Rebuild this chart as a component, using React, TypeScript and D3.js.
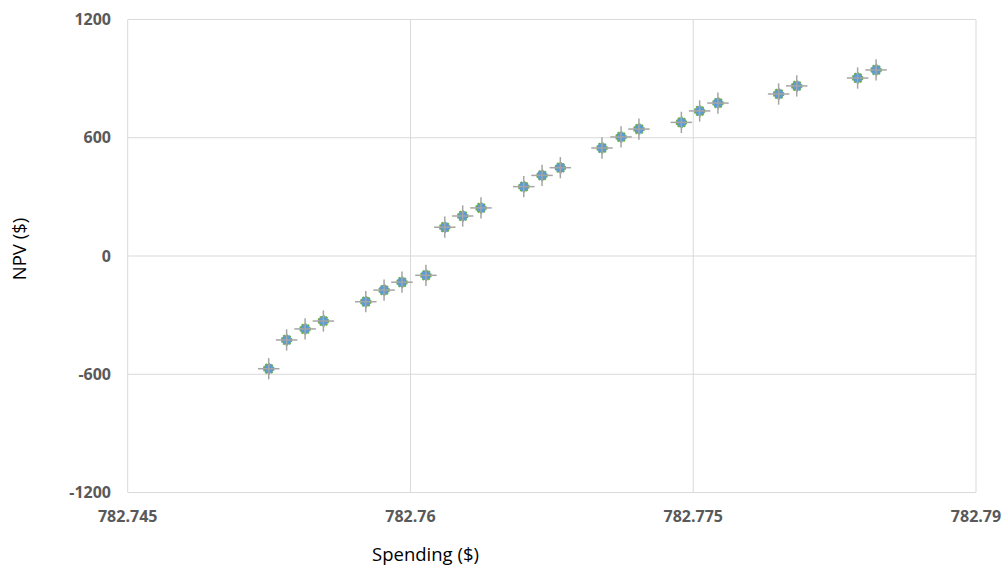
import React from "react";
import * as d3 from "d3";

// Spending ($) vs NPV ($) observations
const spending = [
  782.75248, 782.75343, 782.75441, 782.75538, 782.75763, 782.7586, 782.75955, 782.76082,
  782.76182, 782.76277, 782.76374, 782.76601, 782.76698, 782.76795, 782.77016, 782.77117,
  782.77212, 782.77437, 782.77534, 782.77631, 782.77953, 782.78049, 782.78372, 782.7847,
];
const npv = [
  -572, -426, -370, -330, -232, -173, -133, -98,
  146, 203, 244, 352, 409, 448, 548, 604,
  644, 678, 736, 776, 822, 863, 903, 944,
];
// fixed error-bar half widths
const errSpending = 0.00057;
const errNpv = 54;

const xTicks = [782.745, 782.76, 782.775, 782.79];
const yTicks = [-1200, -600, 0, 600, 1200];

const W = 1004;
const H = 576;
const plot = { left: 127.7, right: 976, top: 19.5, bottom: 492.5 };

export default function App() {
  const x = d3.scaleLinear().domain([782.745, 782.79]).range([plot.left, plot.right]);
  const y = d3.scaleLinear().domain([-1200, 1200]).range([plot.bottom, plot.top]);
  const grid = "#d9d9d9";
  const tickColor = "#595959";
  const tickFont = "'Open Sans', sans-serif";

  return (
    <svg
      width={W}
      height={H}
      style={{ position: "absolute", left: 0, top: 0, background: "#fff" }}
    >
      {/* gridlines */}
      {xTicks.map((t) => (
        <line key={"gx" + t} x1={x(t)} x2={x(t)} y1={plot.top} y2={plot.bottom} stroke={grid} strokeWidth={1} />
      ))}
      {yTicks.map((t) => (
        <line key={"gy" + t} x1={plot.left} x2={plot.right} y1={y(t)} y2={y(t)} stroke={grid} strokeWidth={1} />
      ))}

      {/* tick labels */}
      {yTicks.map((t) => (
        <text
          key={"ly" + t}
          x={111}
          y={y(t)}
          dy="0.35em"
          textAnchor="end"
          fontFamily={tickFont}
          fontWeight={700}
          fontSize={16}
          fill={tickColor}
        >
          {t}
        </text>
      ))}
      {xTicks.map((t) => (
        <text
          key={"lx" + t}
          x={x(t)}
          y={516}
          dy="0.35em"
          textAnchor="middle"
          fontFamily={tickFont}
          fontWeight={700}
          fontSize={16}
          fill={tickColor}
        >
          {d3.format("")(t)}
        </text>
      ))}

      {/* axis titles */}
      <text x={425.5} y={555} dy="0.35em" textAnchor="middle" fontFamily={tickFont} fontSize={18.5} fill="#000">
        Spending ($)
      </text>
      <text
        transform={`translate(20,249) rotate(-90)`}
        dy="0.35em"
        textAnchor="middle"
        fontFamily={tickFont}
        fontSize={18.5}
        fill="#000"
      >
        NPV ($)
      </text>

      {/* points with error bars */}
      {spending.map((s, i) => {
        const cx = x(s);
        const cy = y(npv[i]);
        return (
          <g key={"p" + i}>
            <circle cx={cx} cy={cy} r={5} fill="#5b9bd5" stroke="#70ad47" strokeWidth={1.5} strokeDasharray="2,1.2" />
            <line x1={x(s - errSpending)} x2={x(s + errSpending)} y1={cy} y2={cy} stroke="#a5a5a5" strokeWidth={1.5} />
            <line x1={cx} x2={cx} y1={y(npv[i] - errNpv)} y2={y(npv[i] + errNpv)} stroke="#a5a5a5" strokeWidth={1.5} />
          </g>
        );
      })}
    </svg>
  );
}
